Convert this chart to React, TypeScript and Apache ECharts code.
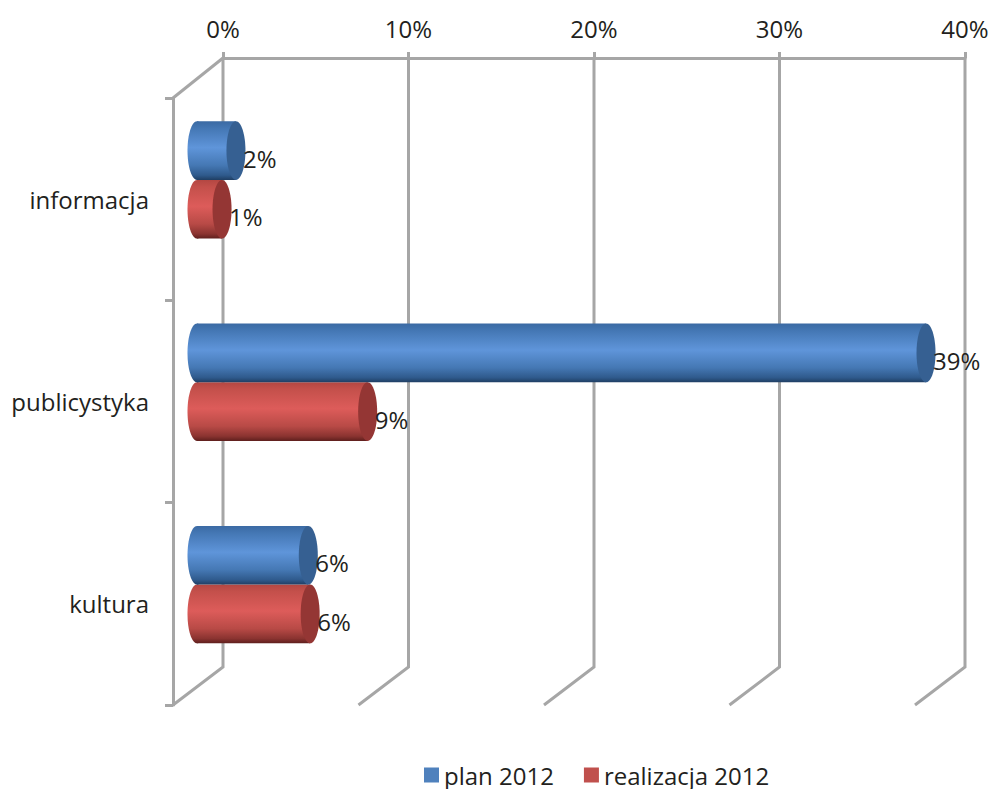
import React, { useEffect, useRef } from "react";
import * as echarts from "echarts";

const categories = ["informacja", "publicystyka", "kultura"];
const planValues = [2.1, 39.3, 6.0];
const realizacjaValues = [1.35, 9.2, 6.1];
const xTicks = [0, 10, 20, 30, 40];
const seriesNames = ["plan 2012", "realizacja 2012"];

const FONT = '"Open Sans", sans-serif';
const GRAY = "#a6a6a6";
const TEXT = "#231f20";

const blueStops = [
  { offset: 0, color: "#3b6aa3" },
  { offset: 0.12, color: "#4477b4" },
  { offset: 0.45, color: "#5f95da" },
  { offset: 0.75, color: "#4578b4" },
  { offset: 0.92, color: "#2f5a8c" },
  { offset: 1, color: "#1f3e63" },
];
const redStops = [
  { offset: 0, color: "#b34742" },
  { offset: 0.12, color: "#c4504b" },
  { offset: 0.45, color: "#dd5c5a" },
  { offset: 0.75, color: "#b84a46" },
  { offset: 0.92, color: "#8a3330" },
  { offset: 1, color: "#5e1f1d" },
];
const vertical = (colorStops: any[]) => ({ type: "linear", x: 0, y: 0, x2: 0, y2: 1, colorStops });

const DEPTH_X = 25;

const cylinder = (centerFactor: number, stops: any[], capColor: string, labelOffset: number) =>
  (params: any, api: any) => {
    const value = api.value(0);
    const band = api.size([0, 1])[1];
    const start = api.coord([0, api.value(1)]);
    const end = api.coord([value, api.value(1)]);
    const x0 = start[0] - DEPTH_X - 1;
    const x1 = end[0] - DEPTH_X - 1;
    const cy = start[1] + centerFactor * band;
    const h = 0.29 * band;
    const rx = 9.5;
    const fill = vertical(stops);
    return {
      type: "group",
      children: [
        { type: "ellipse", shape: { cx: x0, cy, rx, ry: h / 2 }, style: { fill } },
        { type: "rect", shape: { x: x0, y: cy - h / 2, width: x1 - x0, height: h }, style: { fill } },
        { type: "ellipse", shape: { cx: x1, cy, rx, ry: h / 2 }, style: { fill: capColor } },
        {
          type: "text",
          z2: 100,
          x: x1 + labelOffset,
          y: cy + 7.5,
          style: {
            text: Math.round(value) + "%",
            fill: TEXT,
            font: `24px ${FONT}`,
            textAlign: "left",
            textVerticalAlign: "middle",
          },
        },
      ],
    };
  };

const walls = (params: any, api: any) => {
  const value = api.value(0);
  const sys = params.coordSys;
  const top = api.coord([value, 0]);
  const x = top[0];
  const yTop = sys.y - 40;
  const yBack = sys.y + sys.height - 38;
  const yFront = sys.y + sys.height;
  const style = { stroke: GRAY, lineWidth: 3, fill: "none" };
  const children: any[] = [
    { type: "polyline", shape: { points: [[x, yTop], [x, yBack], [x - 50, yFront]] }, style },
  ];
  if (value === 0) {
    children.push({ type: "line", shape: { x1: x, y1: yTop, x2: x - 50, y2: sys.y }, style });
  }
  return { type: "group", children };
};

export default function App() {
  const ref = useRef<HTMLDivElement>(null);
  useEffect(() => {
    const chart = echarts.init(ref.current!, undefined, { renderer: "svg" });
    chart.setOption({
      animation: false,
      backgroundColor: "#fff",
      textStyle: { fontFamily: FONT },
      grid: { left: 223, right: 28, top: 98, bottom: 84, containLabel: false },
      legend: {
        data: seriesNames,
        left: 424,
        top: 763,
        padding: 0,
        itemWidth: 15,
        itemHeight: 15,
        itemGap: 30,
        icon: "rect",
        textStyle: { fontFamily: FONT, fontSize: 24, color: TEXT },
      },
      xAxis: {
        type: "value",
        position: "top",
        min: 0,
        max: 40,
        interval: 10,
        offset: 40,
        splitLine: { show: false },
        axisLine: { show: true, onZero: false, lineStyle: { color: GRAY, width: 3 } },
        axisTick: { show: true, length: 6, lineStyle: { color: GRAY, width: 3 } },
        axisLabel: { formatter: "{value}%", fontFamily: FONT, fontSize: 24, color: TEXT, margin: 18 },
      },
      yAxis: {
        type: "category",
        data: categories,
        inverse: true,
        position: "left",
        offset: 50,
        axisLine: { show: true, onZero: false, lineStyle: { color: GRAY, width: 3 } },
        axisTick: { show: true, length: 8, lineStyle: { color: GRAY, width: 3 } },
        axisLabel: { fontFamily: FONT, fontSize: 24, color: TEXT, margin: 24, padding: [0, 0, 2, 0] },
      },
      series: [
        {
          type: "custom",
          name: "walls",
          silent: true,
          z: 1,
          clip: false,
          data: xTicks.map((t) => [t, 0]),
          encode: { x: 0, y: 1 },
          renderItem: walls,
        },
        {
          type: "custom",
          name: seriesNames[0],
          z: 3,
          clip: false,
          itemStyle: { color: "#4f81bd" },
          data: planValues.map((v, i) => [v, i]),
          encode: { x: 0, y: 1 },
          renderItem: cylinder(-0.24, blueStops, "#366092", 7),
        },
        {
          type: "custom",
          name: seriesNames[1],
          z: 2,
          clip: false,
          itemStyle: { color: "#c0504d" },
          data: realizacjaValues.map((v, i) => [v, i]),
          encode: { x: 0, y: 1 },
          renderItem: cylinder(0.05, redStops, "#943634", 7),
        },
      ],
    });
    return () => chart.dispose();
  }, []);
  return <div ref={ref} style={{ position: "absolute", left: 0, top: 0, width: 993, height: 789 }} />;
}
